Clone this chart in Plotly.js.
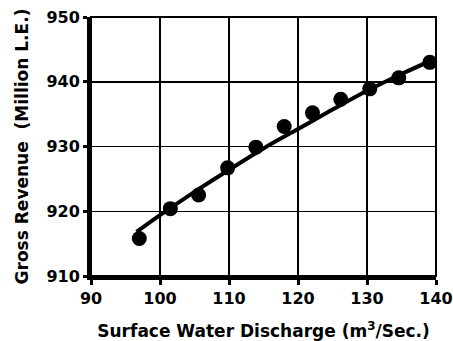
<!DOCTYPE html>
<html>
<head>
<meta charset="utf-8">
<script src="https://cdn.plot.ly/plotly-3.0.1.min.js"></script>
<style>html,body{margin:0;padding:0;background:#fff;}#chart{width:453px;height:341px;}</style>
</head>
<body>
<div id="chart"></div>
<script>
// Observed points
const discharge = [97.0, 101.5, 105.6, 109.8, 113.9, 118.0, 122.1, 126.2, 130.4, 134.6, 139.1];
const revenue   = [915.8, 920.4, 922.5, 926.7, 929.9, 933.1, 935.2, 937.3, 938.9, 940.6, 943.0];
// Fitted trend line
const fitX = [96.6, 100, 105, 110, 115, 120, 125, 130, 135, 140];
const fitY = [916.8, 919.4, 923.0, 926.4, 929.7, 932.7, 935.7, 938.6, 941.2, 943.6];
const xTicks = [90, 100, 110, 120, 130, 140];
const yTicks = [910, 920, 930, 940, 950];

const fontFam = 'DejaVu Sans, Verdana, sans-serif';
const traces = [
  {x: fitX, y: fitY, mode: 'lines', line: {color: '#000', width: 4, shape: 'spline'}, hoverinfo: 'skip'},
  {x: discharge, y: revenue, mode: 'markers', marker: {color: '#000', size: 15}}
];
const layout = {
  width: 453, height: 341,
  margin: {l: 91, r: 17, t: 17, b: 65},
  paper_bgcolor: '#fff', plot_bgcolor: '#fff',
  showlegend: false,
  font: {family: fontFam, color: '#000', size: 16},
  xaxis: {
    range: [90, 140], tickvals: xTicks, ticktext: xTicks.map(String),
    showgrid: true, gridcolor: '#000', gridwidth: 1.5,
    showline: true, linecolor: '#000', linewidth: 4,
    ticks: 'outside', ticklen: 5, tickwidth: 3, tickcolor: '#000',
    tickfont: {family: fontFam, size: 16, weight: 'bold'},
    zeroline: false,
    title: {text: 'Surface Water Discharge (m<sup>3</sup>/Sec.)', font: {family: fontFam, size: 17, weight: 'bold'}, standoff: 19}
  },
  yaxis: {
    range: [910, 950], tickvals: yTicks, ticktext: yTicks.map(String),
    showgrid: true, gridcolor: '#000', gridwidth: 1.5,
    showline: true, linecolor: '#000', linewidth: 4,
    ticks: 'outside', ticklen: 4, tickwidth: 3, tickcolor: '#000',
    tickfont: {family: fontFam, size: 16, weight: 'bold'},
    zeroline: false,
    title: {text: 'Gross Revenue  (Million L.E.)', font: {family: fontFam, size: 17, weight: 'bold'}, standoff: 14}
  },
  shapes: [
    {type: 'rect', xref: 'paper', yref: 'paper', x0: 0, x1: 1, y0: 0, y1: 1, line: {color: '#000', width: 2}, layer: 'above'}
  ]
};
Plotly.newPlot('chart', traces, layout, {staticPlot: true, displayModeBar: false});
</script>
</body>
</html>
